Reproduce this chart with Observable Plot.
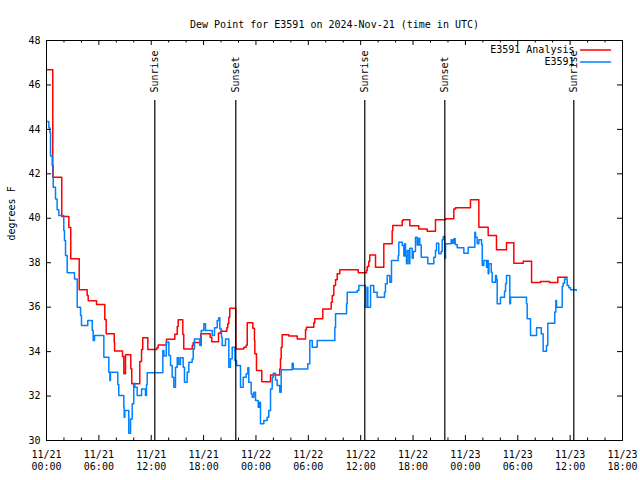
<!DOCTYPE html>
<html><head><meta charset="utf-8">
<script src="https://cdn.jsdelivr.net/npm/d3@7"></script>
<script src="https://cdn.jsdelivr.net/npm/@observablehq/plot@0.6"></script>
<style>html,body{margin:0;padding:0;background:#fff} svg{display:block}</style>
</head><body><div id="chart"></div>
<script>
const titleText = "Dew Point for E3591 on 2024-Nov-21 (time in UTC)";
const yLabel = "degrees F";
const seriesNames = ["E3591 Analysis", "E3591"];
const seriesColors = ["#ff0000", "#0080ff"];
const startTime = "2024-11-21T00:00:00Z";
const spanHours = 66;
const majorTickHours = [0, 6, 12, 18, 24, 30, 36, 42, 48, 54, 60, 66];
const minorTickHours = [2, 4, 8, 10, 14, 16, 20, 22, 26, 28, 32, 34, 38, 40, 44, 46, 50, 52, 56, 58, 62, 64];
const yTicks = [30, 32, 34, 36, 38, 40, 42, 44, 46, 48];

// E3591 Analysis (hours since start, deg F)
const analysisHours = [0.1, 0.72, 1.75, 2.56, 2.78, 3.75, 4.66, 4.78, 5.73, 6.68,
  6.84, 7.76, 7.8, 8.71, 8.86, 9.05, 9.66, 9.77, 10.69, 10.89,
  11.03, 11.61, 12.64, 12.8, 13.75, 14.7, 14.98, 15.09, 15.62, 15.73,
  16.7, 16.81, 17.68, 18.76, 18.94, 19.71, 19.94, 20.66, 20.77, 20.89,
  21.0, 21.69, 22.61, 22.88, 23.0, 23.64, 23.83, 23.87, 24.06, 24.67,
  25.67, 26.73, 26.81, 26.89, 27.0, 27.76, 28.73, 29.68, 29.79, 30.63,
  30.74, 31.66, 32.62, 32.74, 32.92, 33.12, 33.31, 33.61, 35.72, 36.67,
  36.75, 36.93, 37.04, 37.7, 38.65, 39.61, 39.68, 40.76, 40.87, 41.63,
  42.66, 43.62, 44.57, 45.72, 46.67, 46.87, 48.58, 49.54, 50.61, 51.56,
  52.71, 53.55, 54.62, 55.58, 56.61, 57.64, 58.59, 59.67];
const analysisValues = [46.68, 41.85, 40.08, 39.58, 38.18, 36.78, 36.52, 36.29, 36.12, 35.44,
  34.8, 34.41, 34.03, 33.78, 33.0, 33.86, 33.23, 32.55, 33.56, 34.1,
  34.62, 34.1, 34.17, 34.3, 34.56, 34.78, 35.13, 35.43, 34.78, 34.12,
  34.27, 34.41, 34.8, 34.65, 34.44, 34.83, 34.92, 35.07, 35.25, 35.55,
  35.95, 34.12, 34.2, 34.29, 35.3, 35.05, 34.5, 33.9, 33.15, 32.64,
  32.95, 33.23, 33.68, 34.2, 34.76, 34.7, 34.57, 34.98, 35.1, 35.3,
  35.48, 35.92, 36.22, 36.52, 36.97, 37.23, 37.5, 37.68, 37.55, 37.65,
  37.83, 38.07, 38.35, 37.8, 38.85, 39.45, 39.68, 39.9, 39.93, 39.66,
  39.52, 39.42, 39.93, 39.98, 40.42, 40.47, 40.83, 39.6, 39.22, 38.58,
  38.9, 37.98, 38.07, 37.11, 37.15, 37.11, 37.35, 37.35];

// E3591 observations (hours since start, deg F)
const obsHours = [0.08, 0.27, 0.38, 0.46, 0.65, 0.77, 1.03, 1.22, 1.41, 1.98,
  2.06, 2.18, 2.37, 3.21, 3.52, 3.9, 4.01, 4.73, 5.24, 5.35,
  5.5, 6.57, 7.14, 7.26, 7.33, 8.17, 8.28, 8.86, 8.9, 8.97,
  9.43, 9.63, 9.82, 10.0, 10.12, 10.39, 10.89, 11.34, 11.46, 11.54,
  13.33, 13.45, 13.72, 14.02, 14.21, 14.4, 14.59, 14.78, 14.98, 15.16,
  15.35, 15.66, 15.81, 16.12, 16.31, 16.69, 16.81, 16.96, 17.57, 17.73,
  18.03, 18.22, 18.99, 19.25, 19.56, 19.74, 19.86, 20.05, 20.13, 20.51,
  20.89, 21.08, 21.28, 21.59, 21.77, 22.23, 22.54, 22.88, 23.07, 23.18,
  23.45, 23.57, 23.76, 23.95, 24.26, 24.41, 24.52, 24.9, 25.29, 25.47,
  25.67, 25.86, 25.98, 26.24, 26.43, 26.73, 26.89, 28.15, 28.27, 29.94,
  30.17, 30.45, 31.02, 33.04, 33.12, 34.38, 34.46, 35.6, 35.79, 36.55,
  36.75, 36.82, 37.13, 37.5, 37.89, 38.73, 38.84, 39.04, 39.34, 39.53,
  40.3, 40.37, 40.76, 40.94, 41.02, 41.14, 41.25, 41.33, 41.52, 41.63,
  41.9, 42.02, 42.28, 42.48, 42.66, 42.77, 42.94, 43.69, 44.38, 44.57,
  44.69, 44.95, 45.22, 45.34, 45.46, 45.64, 45.72, 46.37, 46.49, 46.67,
  46.83, 47.06, 47.82, 48.32, 49.08, 49.16, 49.35, 49.54, 49.85, 49.93,
  50.11, 50.42, 50.5, 50.61, 50.69, 50.96, 51.07, 51.45, 51.56, 51.64,
  52.02, 52.48, 52.6, 52.71, 53.09, 53.17, 55.0, 55.08, 55.46, 56.15,
  56.69, 56.91, 57.29, 57.44, 58.24, 58.36, 58.44, 59.09, 59.2, 59.36,
  59.66, 59.85, 60.04, 60.7];
const obsValues = [44.35, 44.07, 43.87, 42.8, 42.38, 41.4, 40.87, 40.38, 40.12, 39.45,
  39.0, 38.32, 37.55, 37.27, 36.0, 35.62, 35.17, 35.4, 34.95, 34.5,
  34.72, 33.75, 33.07, 32.7, 33.07, 32.52, 32.02, 31.5, 31.05, 31.35,
  30.33, 30.97, 31.65, 32.58, 32.4, 32.02, 32.32, 32.02, 32.52, 33.05,
  34.05, 33.8, 34.43, 33.83, 33.37, 32.85, 32.4, 33.3, 33.72, 33.42,
  33.72, 33.3, 32.62, 33.07, 33.52, 33.67, 34.12, 34.57, 34.27, 34.95,
  35.25, 34.95, 34.72, 35.07, 35.4, 35.52, 35.02, 34.65, 34.27, 34.57,
  33.3, 33.68, 34.2, 33.6, 33.37, 32.4, 32.85, 33.0, 33.27, 32.62,
  32.1, 31.95, 32.17, 31.8, 31.5, 31.72, 30.75, 30.9, 31.05, 31.35,
  32.32, 32.85, 33.03, 32.72, 32.47, 32.17, 33.18, 33.48, 33.22, 33.45,
  34.5, 34.2, 34.5, 35.1, 35.7, 36.15, 36.67, 36.75, 36.97, 36.0,
  36.9, 36.0, 36.97, 36.67, 36.45, 36.67, 37.05, 37.42, 37.12, 38.1,
  38.33, 38.92, 38.77, 38.3, 38.85, 38.3, 37.95, 38.55, 37.95, 38.65,
  38.2, 38.5, 39.15, 38.8, 39.1, 38.8, 38.25, 37.95, 38.25, 38.55,
  38.88, 38.4, 38.5, 39.03, 39.18, 38.2, 38.85, 39.03, 38.88, 39.08,
  38.82, 38.67, 38.43, 38.7, 39.37, 39.15, 38.85, 39.03, 38.82, 37.87,
  38.1, 37.8, 38.1, 37.5, 37.95, 37.57, 37.12, 37.42, 37.27, 36.15,
  36.45, 36.72, 37.05, 37.42, 36.15, 36.45, 36.15, 35.48, 34.72, 35.07,
  34.8, 34.02, 34.27, 35.28, 35.78, 36.3, 36.0, 36.93, 37.08, 37.27,
  36.97, 36.87, 36.78, 36.75];

// Sun events (hours since start)
const sunHours = [12.41, 21.69, 36.47, 45.64, 60.42];
const sunLabels = ["Sunrise", "Sunset", "Sunrise", "Sunset", "Sunrise"];

const t0 = Date.parse(startTime);
const toDate = h => new Date(t0 + h * 3600000);

const analysis = analysisHours.map((h, i) => ({t: toDate(h), v: analysisValues[i]}));
const obs = obsHours.map((h, i) => ({t: toDate(h), v: obsValues[i]}));
const sun = sunHours.map((h, i) => ({t: toDate(h), label: sunLabels[i]}));
const majorTicks = majorTickHours.map(toDate);
const minorTicks = minorTickHours.map(toDate);

const W = 640, H = 480, mL = 46, mR = 18, mT = 40, mB = 40;
const fw = W - mL - mR, fh = H - mT - mB;
const lineShape = {draw(context, l) { context.moveTo(0, 0); context.lineTo(0, -l); }};
const font = "'DejaVu Sans Mono', 'Liberation Mono', monospace";

const chart = Plot.plot({
  width: W, height: H,
  marginLeft: mL, marginRight: mR, marginTop: mT, marginBottom: mB,
  style: {fontFamily: font, fontSize: "10px", background: "#fff", color: "#000", overflow: "visible"},
  x: {type: "utc", domain: [toDate(0), toDate(spanHours)]},
  y: {domain: [yTicks[0], yTicks[yTicks.length - 1]]},
  marks: [
    Plot.line(analysis, {x: "t", y: "v", curve: "step-after", stroke: seriesColors[0], strokeWidth: 1.5}),
    Plot.line(obs, {x: "t", y: "v", curve: "step-after", stroke: seriesColors[1], strokeWidth: 1.5}),
    Plot.ruleX(sun, {x: "t", insetTop: 60, stroke: "#000", strokeWidth: 1.2}),
    Plot.text(sun, {x: "t", text: "label", frameAnchor: "top", dy: 52, rotate: -90, textAnchor: "start", lineAnchor: "middle", fill: "#000"}),
    Plot.frame({stroke: "#000", strokeWidth: 1}),
    Plot.tickX(majorTicks, {x: d => d, insetTop: fh - 5, stroke: "#000"}),
    Plot.tickX(majorTicks, {x: d => d, insetBottom: fh - 5, stroke: "#000"}),
    Plot.tickX(minorTicks, {x: d => d, insetTop: fh - 2.5, stroke: "#000"}),
    Plot.tickX(minorTicks, {x: d => d, insetBottom: fh - 2.5, stroke: "#000"}),
    Plot.tickY(yTicks, {y: d => d, insetRight: fw - 5, stroke: "#000"}),
    Plot.tickY(yTicks, {y: d => d, insetLeft: fw - 5, stroke: "#000"}),
    Plot.axisX({ticks: majorTicks, tickSize: 0, tickPadding: 9, tickFormat: d3.utcFormat("%m/%d\n%H:%M"), lineHeight: 1.17, label: null}),
    Plot.axisY({ticks: yTicks, tickSize: 0, tickPadding: 6, label: null}),
    Plot.text([titleText], {text: d => d, frameAnchor: "top", dy: -20, fill: "#000"}),
    Plot.text([yLabel], {text: d => d, frameAnchor: "left", dx: -35, rotate: -90, fill: "#000"}),
    Plot.text([seriesNames[0]], {text: d => d, frameAnchor: "top-right", dx: -48, dy: 9, textAnchor: "end", lineAnchor: "middle", fill: "#000"}),
    Plot.text([seriesNames[1]], {text: d => d, frameAnchor: "top-right", dx: -48, dy: 21, textAnchor: "end", lineAnchor: "middle", fill: "#000"}),
    Plot.vector([seriesNames[0]], {frameAnchor: "top-right", dx: -42, dy: 9.5, length: 30, rotate: 90, anchor: "start", shape: lineShape, stroke: seriesColors[0], strokeWidth: 1.5}),
    Plot.vector([seriesNames[1]], {frameAnchor: "top-right", dx: -42, dy: 21.5, length: 30, rotate: 90, anchor: "start", shape: lineShape, stroke: seriesColors[1], strokeWidth: 1.5})
  ]
});
document.getElementById("chart").appendChild(chart);
</script>
</body></html>
